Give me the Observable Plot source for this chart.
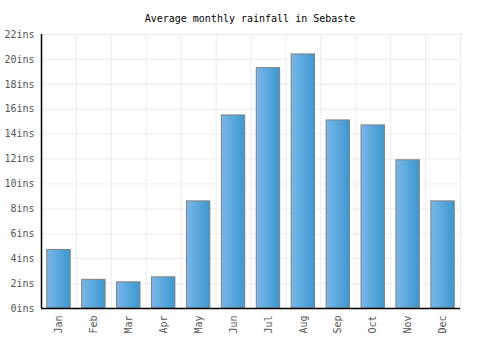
<!DOCTYPE html>
<html>
<head>
<meta charset="utf-8">
<script src="https://cdn.jsdelivr.net/npm/d3@7"></script>
<script src="https://cdn.jsdelivr.net/npm/@observablehq/plot@0.6"></script>
<style>
  html, body { margin: 0; padding: 0; background: #fff; }
  #wrap { position: relative; width: 500px; height: 350px; }
  #title { position: absolute; left: 0; top: 13px; width: 500px; text-align: center;
           font: 10px "DejaVu Sans Mono", monospace; color: #000; }
  #chart { position: absolute; left: 0; top: 0; }
</style>
</head>
<body>
<div id="wrap">
  <div id="chart"></div>
  <div id="title">Average monthly rainfall in Sebaste</div>
</div>
<script>
const months = ["Jan","Feb","Mar","Apr","May","Jun","Jul","Aug","Sep","Oct","Nov","Dec"];
const rainfall = [4.7, 2.3, 2.1, 2.5, 8.6, 15.5, 19.3, 20.4, 15.1, 14.7, 11.9, 8.6];
const yTicks = [0, 2, 4, 6, 8, 10, 12, 14, 16, 18, 20, 22];
const unit = "ins";

const data = months.map((m, i) => ({month: m, value: rainfall[i]}));

const W = 500, H = 350, mL = 41, mR = 40, mT = 34, mB = 42;
const step = (W - mL - mR) / months.length;

const gradient = () => {
  const g = d3.create("svg:defs");
  const lg = g.append("linearGradient").attr("id", "rainGrad")
    .attr("x1", 0).attr("x2", 1).attr("y1", 0).attr("y2", 0);
  lg.append("stop").attr("offset", "0%").attr("stop-color", "#79b7ea");
  lg.append("stop").attr("offset", "100%").attr("stop-color", "#3a98cf");
  return g.node();
};

const chart = Plot.plot({
  width: W, height: H,
  marginLeft: mL, marginRight: mR, marginTop: mT, marginBottom: mB,
  style: {fontFamily: "'DejaVu Sans Mono', monospace", fontSize: "10px", color: "#555", background: "#fff"},
  x: {domain: months, paddingInner: 0.33, paddingOuter: 0.165, round: false, label: null},
  y: {domain: [0, 22], label: null},
  marks: [
    gradient,
    Plot.ruleY(yTicks, {stroke: "#ebebeb", strokeWidth: 1}),
    Plot.ruleX(months, {x: d => d, dx: step / 2, stroke: "#ebebeb", strokeWidth: 1}),
    Plot.barY(data, {x: "month", y: "value", fill: "url(#rainGrad)", stroke: "#808080", strokeWidth: 1}),
    Plot.ruleX([months[0]], {x: d => d, dx: -step / 2, stroke: "#000", strokeWidth: 1.5}),
    Plot.ruleY([0], {stroke: "#000", strokeWidth: 1.5}),
    Plot.axisY({ticks: yTicks, tickFormat: d => d + unit, tickSize: 0, tickPadding: 7, fill: "#555", label: null}),
    Plot.axisX({tickRotate: -90, tickSize: 0, tickPadding: 7, fill: "#555", label: null})
  ]
});
document.getElementById("chart").appendChild(chart);
</script>
</body>
</html>
